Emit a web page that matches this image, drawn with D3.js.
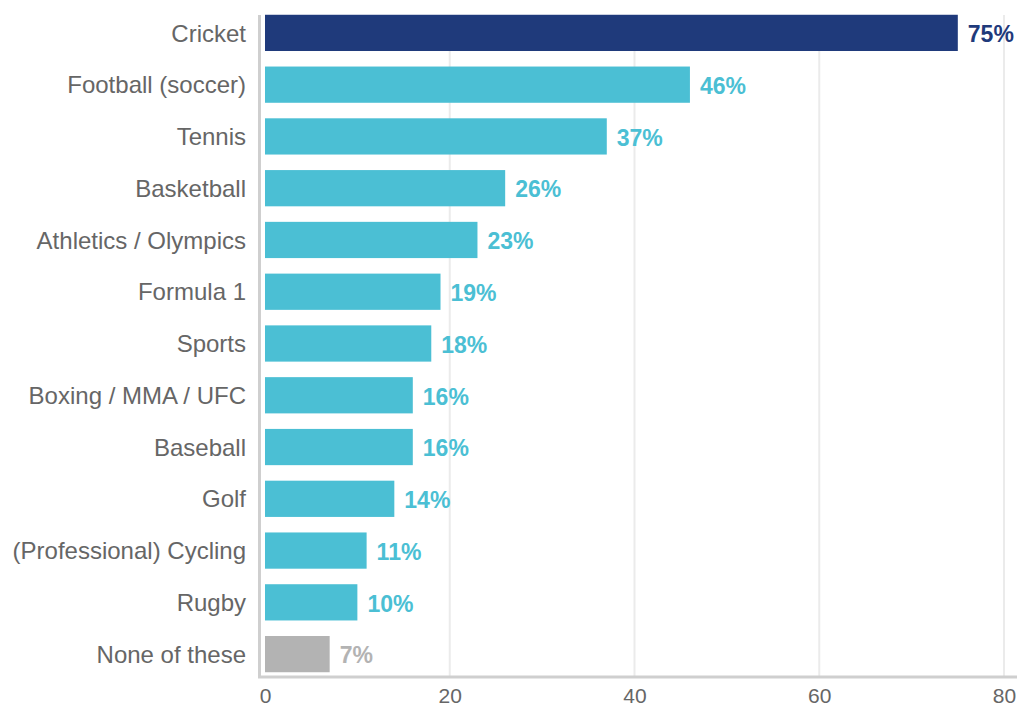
<!DOCTYPE html>
<html>
<head>
<meta charset="utf-8">
<script src="https://cdn.jsdelivr.net/npm/d3@7"></script>
<style>
  html, body { margin: 0; padding: 0; background: #fff; }
  svg { display: block; font-family: "Liberation Sans", Arial, Helvetica, sans-serif; }
</style>
</head>
<body>
<svg id="chart" width="1017" height="708"></svg>
<script>
// Sports followed, share of respondents (%)
const categories = [
  "Cricket", "Football (soccer)", "Tennis", "Basketball", "Athletics / Olympics",
  "Formula 1", "Sports", "Boxing / MMA / UFC", "Baseball", "Golf",
  "(Professional) Cycling", "Rugby", "None of these"
];
const values = [75, 46, 37, 26, 23, 19, 18, 16, 16, 14, 11, 10, 7];
const xTicks = [0, 20, 40, 60, 80];

const colorHighlight = "#1f3a7b";
const colorDefault = "#4bbfd4";
const colorNone = "#b3b3b3";
const barColor = (d, i) => i === 0 ? colorHighlight : (d === "None of these" ? colorNone : colorDefault);

const svg = d3.select("#chart");
const plotLeft = 265, plotRight = 1004, plotTop = 7, plotBottom = 680;

const x = d3.scaleLinear().domain([0, 80]).range([plotLeft, plotRight]);
const y = d3.scaleBand().domain(categories).range([plotTop, plotBottom]).paddingInner(0.3).paddingOuter(0.15);

// vertical gridlines
svg.append("g")
  .selectAll("line")
  .data(xTicks.filter(t => t > 0))
  .join("line")
  .attr("x1", d => x(d)).attr("x2", d => x(d))
  .attr("y1", 15).attr("y2", 677)
  .attr("stroke", "#ebebeb").attr("stroke-width", 2);

// bars
svg.append("g")
  .selectAll("rect")
  .data(categories)
  .join("rect")
  .attr("x", x(0))
  .attr("y", d => y(d))
  .attr("width", (d, i) => x(values[i]) - x(0))
  .attr("height", y.bandwidth())
  .attr("fill", (d, i) => barColor(d, i));

// value labels
svg.append("g")
  .selectAll("text")
  .data(categories)
  .join("text")
  .attr("x", (d, i) => x(values[i]) + 10)
  .attr("y", d => y(d) + y.bandwidth() / 2 + 1)
  .attr("dy", "0.36em")
  .attr("font-size", 23)
  .attr("font-weight", "bold")
  .attr("fill", (d, i) => barColor(d, i))
  .text((d, i) => values[i] + "%");

// category axis
const yAxis = svg.append("g")
  .attr("transform", `translate(${plotLeft - 19},1)`)
  .call(d3.axisLeft(y).tickSize(0).tickPadding(0));
yAxis.select(".domain").remove();
yAxis.selectAll("text")
  .attr("font-size", 24)
  .attr("fill", "#666")
  .attr("font-family", "\"Liberation Sans\", Arial, sans-serif");

// axis lines
svg.append("line")
  .attr("x1", 259.5).attr("x2", 259.5).attr("y1", 15).attr("y2", 678)
  .attr("stroke", "#cfcfcf").attr("stroke-width", 3);
svg.append("line")
  .attr("x1", 258).attr("x2", 1017).attr("y1", 677).attr("y2", 677)
  .attr("stroke", "#cfcfcf").attr("stroke-width", 3);

// value axis
const xAxis = svg.append("g")
  .attr("transform", "translate(0,679)")
  .call(d3.axisBottom(x).tickValues(xTicks).tickSize(0));
xAxis.select(".domain").remove();
xAxis.selectAll("text")
  .attr("y", 24)
  .attr("dy", null)
  .attr("font-size", 21)
  .attr("fill", "#666")
  .attr("font-family", "\"Liberation Sans\", Arial, sans-serif");
</script>
</body>
</html>
